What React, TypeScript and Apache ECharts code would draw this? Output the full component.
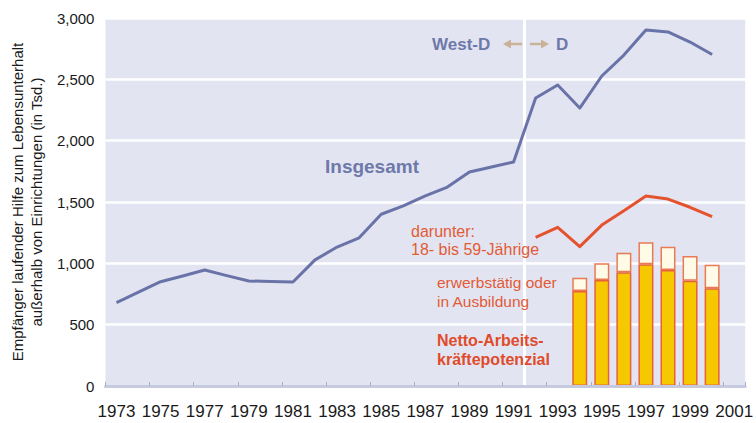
import React, { useEffect, useRef } from "react";
import * as echarts from "echarts";

const years = [
  "1973", "1974", "1975", "1976", "1977", "1978", "1979", "1980", "1981", "1982",
  "1983", "1984", "1985", "1986", "1987", "1988", "1989", "1990", "1991", "1992",
  "1993", "1994", "1995", "1996", "1997", "1998", "1999", "2000", "2001",
];

// Empfänger insgesamt (in Tsd.), 1973–2000
const insgesamtYears = years.slice(0, 28);
const insgesamt = [
  680, 766, 850, 897, 946, 900, 856, 852, 848, 1028,
  1133, 1208, 1400, 1468, 1550, 1622, 1744, 1785, 1826, 2348,
  2454, 2266, 2527, 2698, 2902, 2886, 2804, 2702,
];

// darunter: 18- bis 59-Jährige
const age18to59Years = ["1992", "1993", "1994", "1995", "1996", "1997", "1998", "1999", "2000"];
const age18to59 = [1212, 1294, 1136, 1312, 1429, 1549, 1524, 1457, 1380];

// Netto-Arbeitskräftepotenzial and erwerbstätig oder in Ausbildung
const barYears = ["1994", "1995", "1996", "1997", "1998", "1999", "2000"];
const nettoArbeitskraefte = [774, 864, 927, 992, 946, 858, 796];
const erwerbstaetigAusbildung = [109, 136, 160, 179, 190, 202, 193];

// West-D | D divider, placed at the band boundary before this year
const divideBeforeYear = "1992";

const FONT = "'Liberation Sans', Arial, Helvetica, sans-serif";

function align(keys: string[], vals: number[]) {
  return years.map((y) => {
    const i = keys.indexOf(y);
    return i >= 0 ? vals[i] : null;
  });
}

export default function App() {
  const ref = useRef<HTMLDivElement>(null);

  useEffect(() => {
    if (!ref.current) return;
    const chart = echarts.init(ref.current, undefined, { renderer: "svg" });
    const blue = "#6973a8";
    const red = "#e4532d";
    const textRed = "#e35a36";
    const divideIdx = years.indexOf(divideBeforeYear);

    chart.setOption({
      animation: false,
      grid: {
        left: 101,
        right: 10,
        top: 18,
        bottom: 37,
        show: true,
        backgroundColor: "#e2e5f1",
        borderWidth: 0,
      },
      xAxis: [
        {
          type: "category",
          data: years,
          boundaryGap: true,
          axisLine: { show: true, lineStyle: { color: "#c6cadf", width: 3 } },
          axisTick: { show: true, inside: true, length: 4, lineStyle: { color: "#a9aecb", width: 1 } },
          axisLabel: {
            interval: 1,
            fontSize: 17,
            color: "#1a1a1a",
            fontFamily: FONT,
            margin: 17,
          },
          splitLine: { show: false },
          z: 3,
        },
        {
          type: "value",
          min: 0,
          max: years.length,
          show: false,
        },
      ],
      yAxis: {
        type: "value",
        min: 0,
        max: 3000,
        interval: 500,
        axisLine: { show: false },
        axisTick: { show: false },
        axisLabel: {
          fontSize: 15,
          color: "#1a1a1a",
          fontFamily: FONT,
          margin: 11,
          formatter: (v: number) => v.toLocaleString("en-US"),
        },
        splitLine: { show: true, lineStyle: { color: "#ffffff", width: 2.5 } },
        name: "Empfänger laufender Hilfe zum Lebensunterhalt\naußerhalb von Einrichtungen (in Tsd.)",
        nameLocation: "middle",
        nameGap: 56,
        nameTextStyle: {
          fontSize: 15,
          lineHeight: 19,
          color: "#1a1a1a",
          fontFamily: FONT,
          align: "center",
        },
      },
      series: [
        {
          name: "divider",
          type: "line",
          xAxisIndex: 1,
          data: [],
          silent: true,
          z: 0,
          markLine: {
            silent: true,
            z: 0,
            symbol: "none",
            label: { show: false },
            lineStyle: { color: "#ffffff", width: 3, type: "solid" },
            data: [{ xAxis: divideIdx }],
          },
        },
        {
          name: "Netto-Arbeitskräftepotenzial",
          type: "bar",
          stack: "a",
          barWidth: 15,
          data: align(barYears, nettoArbeitskraefte),
          itemStyle: { color: "#f6c800", borderColor: "#e8603c", borderWidth: 1.5 },
        },
        {
          name: "erwerbstätig oder in Ausbildung",
          type: "bar",
          stack: "a",
          barWidth: 15,
          data: align(barYears, erwerbstaetigAusbildung),
          itemStyle: { color: "#fffbe6", borderColor: "#ea7a56", borderWidth: 1.5 },
        },
        {
          name: "Insgesamt",
          type: "line",
          data: align(insgesamtYears, insgesamt),
          symbol: "none",
          connectNulls: false,
          lineStyle: { color: blue, width: 3, join: "round" },
          z: 5,
        },
        {
          name: "18- bis 59-Jährige",
          type: "line",
          data: align(age18to59Years, age18to59),
          symbol: "none",
          lineStyle: { color: red, width: 3, join: "round" },
          z: 5,
        },
      ],
      graphic: [
        {
          type: "group",
          z: 20,
          children: [
            {
              type: "text",
              x: 432,
              y: 44,
              z: 20,
              style: { text: "West-D", fill: "#6e79aa", font: `bold 17px ${FONT}`, textVerticalAlign: "middle" },
            },
            {
              type: "text",
              x: 556,
              y: 44,
              z: 20,
              style: { text: "D", fill: "#6e79aa", font: `bold 17px ${FONT}`, textVerticalAlign: "middle" },
            },
            { type: "line", z: 20, shape: { x1: 510, y1: 44, x2: 522, y2: 44 }, style: { stroke: "#c9b29a", lineWidth: 2.5 } },
            { type: "polygon", z: 20, shape: { points: [[503, 44], [511, 39.5], [511, 48.5]] }, style: { fill: "#c9b29a" } },
            { type: "line", z: 20, shape: { x1: 530, y1: 44, x2: 542, y2: 44 }, style: { stroke: "#c9b29a", lineWidth: 2.5 } },
            { type: "polygon", z: 20, shape: { points: [[549, 44], [541, 39.5], [541, 48.5]] }, style: { fill: "#c9b29a" } },
            {
              type: "text",
              x: 325,
              y: 166,
              z: 20,
              style: { text: "Insgesamt", fill: "#6e79aa", font: `bold 19px ${FONT}`, textVerticalAlign: "middle" },
            },
            {
              type: "text",
              x: 411,
              y: 223,
              z: 20,
              style: {
                text: "darunter:\n18- bis 59-Jährige",
                fill: textRed,
                font: `16px ${FONT}`,
                lineHeight: 17.5,
                textVerticalAlign: "top",
              },
            },
            {
              type: "text",
              x: 437,
              y: 273,
              z: 20,
              style: {
                text: "erwerbstätig oder\nin Ausbildung",
                fill: textRed,
                font: `15.5px ${FONT}`,
                lineHeight: 19,
                textVerticalAlign: "top",
              },
            },
            {
              type: "text",
              x: 437,
              y: 331,
              z: 20,
              style: {
                text: "Netto-Arbeits-\nkräftepotenzial",
                fill: "#e04b2b",
                font: `bold 16px ${FONT}`,
                lineHeight: 19,
                textVerticalAlign: "top",
              },
            },
          ],
        },
      ],
    });

    return () => chart.dispose();
  }, []);

  return <div ref={ref} style={{ width: 756, height: 423, position: "absolute", left: 0, top: 0 }} />;
}
